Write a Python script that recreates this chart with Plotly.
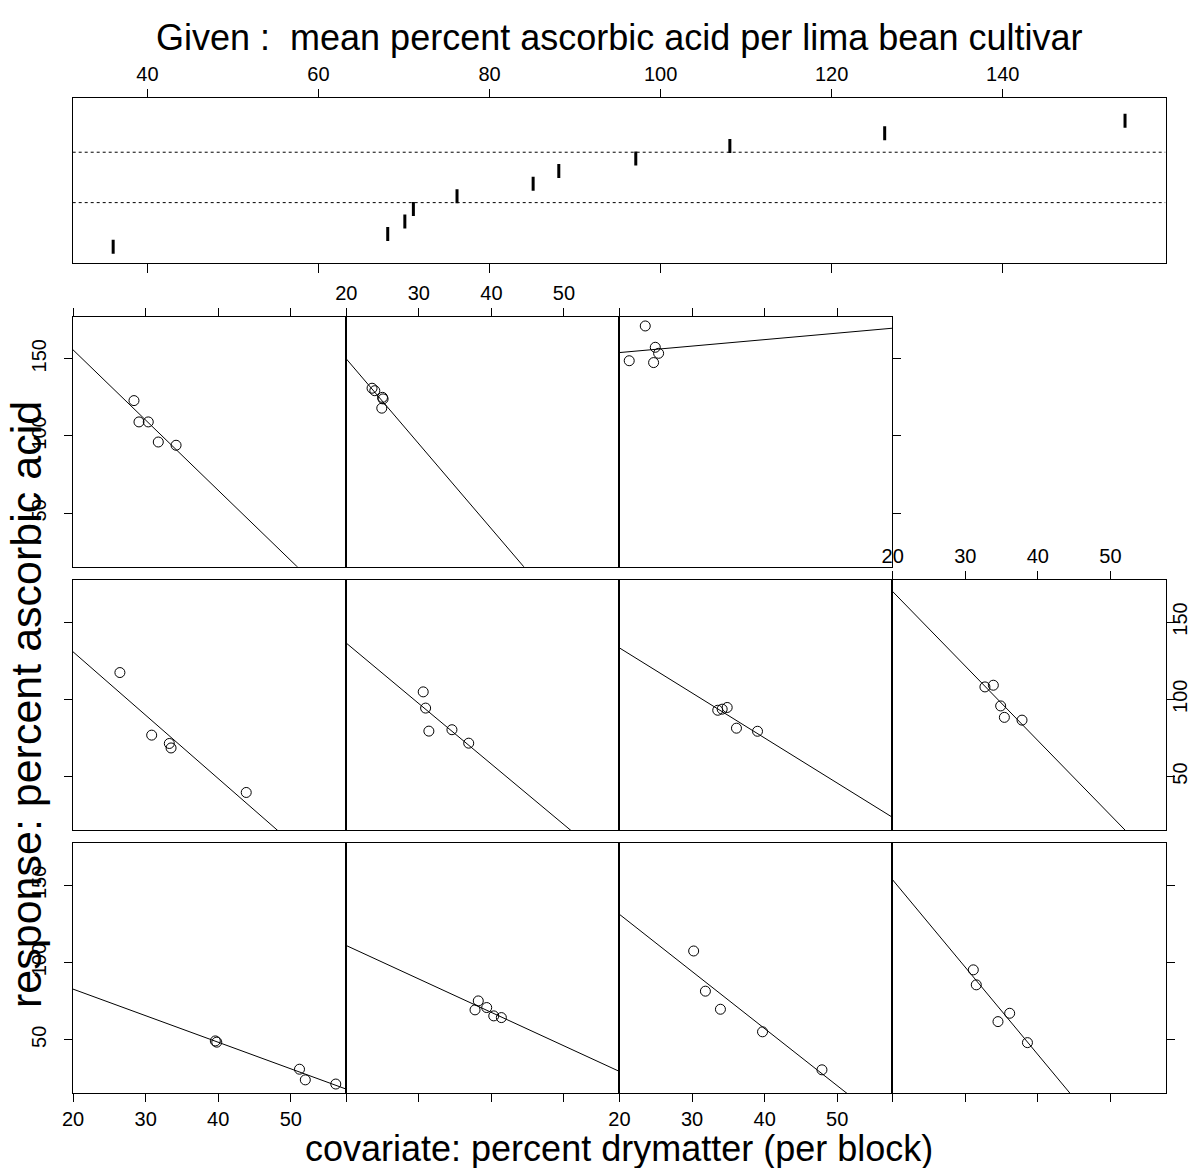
import numpy as np
import plotly.graph_objects as go

# ---------------- data ----------------
# mean percent ascorbic acid per cultivar (given variable), in panel order
given_levels = [36.0, 68.1, 70.1, 71.1, 76.2, 85.1, 88.1, 97.1, 108.1, 126.2, 154.3]

# covariate: percent drymatter, 5 blocks per cultivar
drymatter = [
    [39.6, 39.8, 51.2, 52.0, 56.2],
    [37.74, 38.19, 39.35, 40.32, 41.37],
    [30.22, 31.84, 33.91, 39.71, 47.90],
    [31.11, 31.52, 34.51, 36.12, 38.57],
    [26.45, 30.83, 33.26, 33.50, 43.86],
    [30.60, 30.93, 31.38, 34.56, 36.87],
    [33.54, 34.15, 34.84, 36.12, 39.02],
    [32.71, 33.87, 34.88, 35.39, 37.82],
    [28.39, 29.08, 30.36, 31.74, 34.19],
    [23.55, 23.93, 24.99, 25.07, 24.89],
    [21.34, 23.55, 24.93, 25.39, 24.70],
]
# response: percent ascorbic acid
ascorbic = [
    [49.3, 48.5, 31.0, 24.1, 21.4],
    [69.4, 75.2, 70.9, 65.5, 64.4],
    [107.5, 81.5, 69.8, 55.2, 30.6],
    [95.3, 85.6, 61.8, 67.2, 48.2],
    [117.3, 76.8, 71.4, 68.5, 39.7],
    [104.8, 94.3, 79.4, 80.3, 71.6],
    [92.9, 93.6, 94.7, 81.3, 79.3],
    [108.0, 109.1, 95.7, 88.3, 86.5],
    [122.9, 109.1, 109.1, 96.1, 94.0],
    [130.9, 129.3, 125.0, 124.0, 118.0],
    [148.7, 171.2, 157.4, 153.5, 147.5],
]
# fitted lines per panel (intercept at x=0, slope)
fit_intercept = [117.2, 154.3, 205.1, 266.5, 212.7, 214.7, 191.5, 266.1, 246.6, 259.9, 145.6]
fit_slope = [-1.719, -2.164, -3.695, -5.65, -4.10, -3.917, -2.914, -4.82, -4.544, -5.50, 0.419]

x_ticks = [20, 30, 40, 50]
y_ticks = [50, 100, 150]
given_ticks = [40, 60, 80, 100, 120, 140]

title_text = "Given :\u00a0 mean percent ascorbic acid per lima bean cultivar"
xlab_text = "covariate: percent drymatter (per block)"
ylab_text = "response: percent ascorbic acid"

# ---------------- geometry ----------------
# the page body adds an 8px margin on every side
OFF = 8
W, H = 1199 - 2 * OFF, 1176 - 2 * OFF
FONT = "Liberation Sans, Arial, Helvetica, sans-serif"
NCOL = 4


def fx(px):
    return (px - OFF) / W


def fy(py):
    return 1 - (py - OFF) / H


col_left0, col_w = 72.7, 273.2
row_top = {2: 316.7, 1: 580.0, 0: 843.3}
row_h = 250.0

allx = np.concatenate([np.array(v) for v in drymatter])
ally = np.concatenate([np.array(v) for v in ascorbic])
rx = allx.max() - allx.min()
ry = ally.max() - ally.min()
xr = [allx.min() - 0.04 * rx, allx.max() + 0.04 * rx]
yr = [ally.min() - 0.04 * ry, ally.max() + 0.04 * ry]

gl = np.array(given_levels)
rg = gl.max() - gl.min()
gr = [gl.min() - 0.04 * rg, gl.max() + 0.04 * rg]
gidx = np.arange(1, len(given_levels) + 1)

fig = go.Figure()
layout = {}

n = len(given_levels)
nrow = int(np.ceil(n / NCOL))
for i in range(n):
    row = i // NCOL
    col = i % NCOL
    k = i + 1
    xa = "xaxis" if k == 1 else f"xaxis{k}"
    ya = "yaxis" if k == 1 else f"yaxis{k}"
    xs = "x" if k == 1 else f"x{k}"
    ys = "y" if k == 1 else f"y{k}"
    left = col_left0 + col * col_w
    top = row_top[row]
    last_in_row = (col == NCOL - 1) or (i == n - 1)
    top_row = row == nrow - 1
    # x-axis side/ticks
    xcfg = dict(domain=[fx(left), fx(left + col_w)], range=xr, anchor=ys,
                automargin=False,
                showline=True, mirror=True, linecolor="black", linewidth=1,
                showgrid=False, zeroline=False, tickvals=x_ticks,
                tickfont=dict(family=FONT, size=20, color="black"),
                ticklen=8, tickwidth=1, tickcolor="black")
    if row == 0:
        xcfg.update(side="bottom", ticks="outside", showticklabels=(col % 2 == 0))
    elif top_row:
        xcfg.update(side="top", ticks="outside", showticklabels=(col % 2 == 1))
    elif row + 1 == nrow - 1 and (row + 1) * NCOL + col >= n:
        # nothing above this panel
        xcfg.update(side="top", ticks="outside", showticklabels=True)
    else:
        xcfg.update(ticks="", showticklabels=False)
    ycfg = dict(domain=[fy(top + row_h), fy(top)], range=yr, anchor=xs,
                automargin=False,
                showline=True, mirror=True, linecolor="black", linewidth=1,
                showgrid=False, zeroline=False, tickvals=y_ticks, tickangle=-90,
                tickfont=dict(family=FONT, size=20, color="black"),
                ticklen=8, tickwidth=1, tickcolor="black")
    if col == 0:
        ycfg.update(side="left", ticks="outside", showticklabels=(row % 2 == 0),
                    ticklabelstandoff=10)
    elif last_in_row:
        ycfg.update(side="right", ticks="outside", showticklabels=(row % 2 == 1),
                    ticklabelstandoff=-12)
    else:
        ycfg.update(ticks="", showticklabels=False)
    layout[xa] = xcfg
    layout[ya] = ycfg

    fig.add_trace(go.Scatter(x=drymatter[i], y=ascorbic[i], mode="markers",
                             marker=dict(symbol="circle-open", size=10,
                                         color="black", line=dict(width=1, color="black")),
                             xaxis=xs, yaxis=ys, showlegend=False, hoverinfo="skip"))
    lx = np.array(xr)
    ly = fit_intercept[i] + fit_slope[i] * lx
    fig.add_trace(go.Scatter(x=lx, y=ly, mode="lines", line=dict(color="black", width=1),
                             xaxis=xs, yaxis=ys, showlegend=False, hoverinfo="skip"))

# ---------------- given panel ----------------
gk = n + 1
gk2 = n + 2
g_left, g_right = 72.7, col_left0 + NCOL * col_w
g_top, g_bot = 98.3, 262.7
g_yr = [-0.27, n + 1.78]
layout[f"xaxis{gk}"] = dict(domain=[fx(g_left), fx(g_right)], range=gr, anchor=f"y{gk}",
                            automargin=False,
                            side="top", showline=True, mirror=True, linecolor="black",
                            linewidth=1, showgrid=False, zeroline=False,
                            tickvals=given_ticks, ticks="outside", ticklen=8,
                            tickcolor="black",
                            tickfont=dict(family=FONT, size=20, color="black"))
layout[f"xaxis{gk2}"] = dict(range=gr, anchor=f"y{gk}", overlaying=f"x{gk}",
                             automargin=False,
                             side="bottom", showline=False, showgrid=False,
                             zeroline=False, tickvals=given_ticks, ticks="outside",
                             ticklen=9, tickcolor="black", showticklabels=False)
layout[f"yaxis{gk}"] = dict(domain=[fy(g_bot), fy(g_top)], range=g_yr, anchor=f"x{gk}",
                            automargin=False,
                            showline=True, mirror=True, linecolor="black", linewidth=1,
                            showgrid=False, zeroline=False, ticks="", showticklabels=False)

fig.add_trace(go.Scatter(x=given_levels, y=gidx, mode="markers",
                         marker=dict(symbol="line-ns", size=10, color="black",
                                     line=dict(width=3, color="black")),
                         xaxis=f"x{gk}", yaxis=f"y{gk}", showlegend=False, hoverinfo="skip"))
fig.add_trace(go.Scatter(x=[given_levels[0]], y=[1], mode="markers",
                         marker=dict(opacity=0), xaxis=f"x{gk2}", yaxis=f"y{gk}",
                         showlegend=False, hoverinfo="skip"))
# dotted row separators in given panel
for r in range(1, nrow):
    sep = r * NCOL + 0.5
    fig.add_trace(go.Scatter(x=gr, y=[sep, sep], mode="lines",
                             line=dict(color="black", width=1, dash="dot"),
                             xaxis=f"x{gk}", yaxis=f"y{gk}", showlegend=False,
                             hoverinfo="skip"))

annotations = [
    dict(text=title_text, x=fx(619), y=fy(38), xref="paper", yref="paper",
         showarrow=False, xanchor="center", yanchor="middle",
         font=dict(family=FONT, size=36, color="black")),
    dict(text=xlab_text, x=fx(619), y=fy(1148), xref="paper", yref="paper",
         showarrow=False, xanchor="center", yanchor="middle",
         font=dict(family=FONT, size=36, color="black")),
    dict(text=ylab_text, x=fx(26), y=fy(705), xref="paper", yref="paper",
         showarrow=False, xanchor="center", yanchor="middle", textangle=-90,
         font=dict(family=FONT, size=43, color="black")),
]

fig.update_layout(width=W, height=H, margin=dict(l=0, r=0, t=0, b=0),
                  paper_bgcolor="white", plot_bgcolor="white",
                  annotations=annotations, showlegend=False, **layout)

fig.write_html("out.html")
